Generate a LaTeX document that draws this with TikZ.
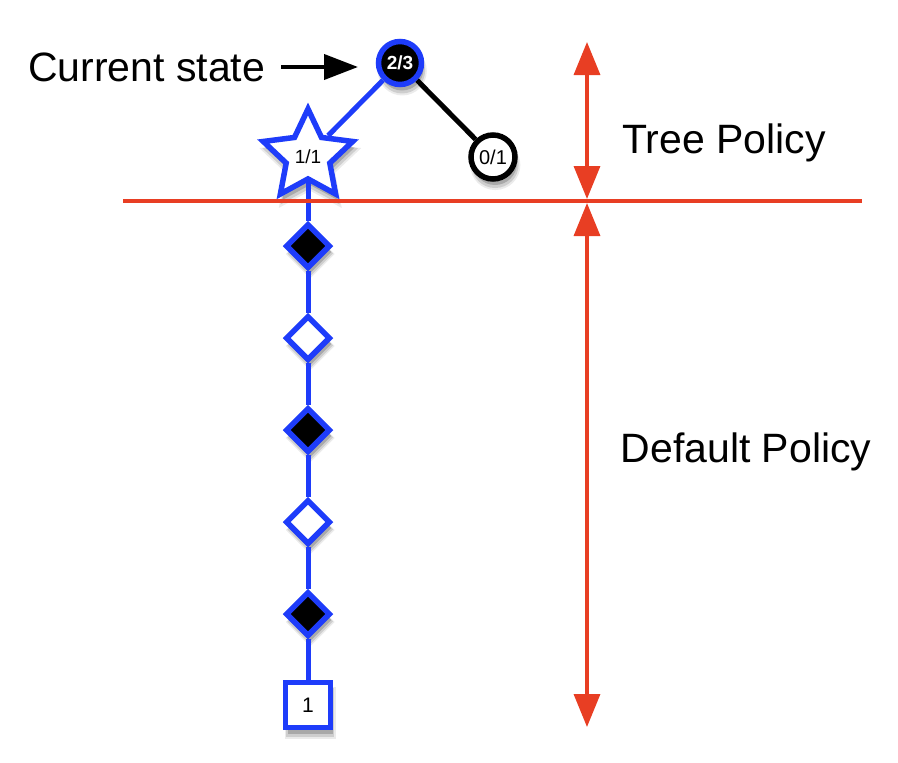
\documentclass[tikz,border=0pt]{standalone}
\usepackage{fontspec}
\setmainfont{Liberation Sans}
\usetikzlibrary{arrows.meta,shapes.geometric,shadows}
\definecolor{nodeblue}{RGB}{30,60,250}
\definecolor{polred}{RGB}{232,62,35}
\begin{document}
\begin{tikzpicture}[x=1pt,y=-1pt,
  shad/.style={
    drop shadow={shadow xshift=2pt,shadow yshift=-7pt,shadow scale=1.14,opacity=0.08,fill=black},
    drop shadow={shadow xshift=2pt,shadow yshift=-7pt,shadow scale=1.07,opacity=0.12,fill=black},
    drop shadow={shadow xshift=2pt,shadow yshift=-6pt,shadow scale=1.0,opacity=0.18,fill=black}},
  rootnode/.style={circle,draw=nodeblue,fill=black,line width=5.5pt,minimum size=43pt,inner sep=0pt,text=white,font=\fontsize{19}{19}\selectfont\bfseries,shad},
  leafnode/.style={circle,draw=black,fill=white,line width=5.5pt,minimum size=44pt,inner sep=0pt,font=\fontsize{20}{20}\selectfont,shad},
  starnode/.style={star,star points=5,star point ratio=2.05,draw=nodeblue,fill=white,line width=5.5pt,minimum size=94pt,inner sep=0pt,shad},
  dblack/.style={diamond,aspect=1,draw=nodeblue,fill=black,line width=5.5pt,minimum size=45pt,inner sep=0pt,shad},
  dwhite/.style={diamond,aspect=1,draw=nodeblue,fill=white,line width=5.5pt,minimum size=45pt,inner sep=0pt,shad},
  termnode/.style={rectangle,draw=nodeblue,fill=white,line width=5.5pt,minimum size=45pt,inner sep=0pt,font=\fontsize{21}{21}\selectfont,shad},
  blueedge/.style={draw=nodeblue,line width=5pt},
  blackedge/.style={draw=black,line width=5pt},
  redline/.style={draw=polred,line width=3.5pt},
  redarrow/.style={draw=polred,line width=3.5pt,{Triangle[length=33pt,width=26pt]}-{Triangle[length=33pt,width=26pt]}},
  lbl/.style={font=\fontsize{41}{41}\selectfont,inner sep=0pt}
]
\useasboundingbox (0,0) rectangle (898,763);

% nodes
\node[rootnode] (root) at (400,63) {2/3};
\node[leafnode] (leaf) at (493,157) {0/1};
\node[starnode] (star) at (308,156) {};
\node[font=\fontsize{19}{19}\selectfont] (startext) at (308,157) {1/1};
\node[dblack] (d1) at (308,246) {};
\node[dwhite] (d2) at (308,338) {};
\node[dblack] (d3) at (308,430) {};
\node[dwhite] (d4) at (308,522) {};
\node[dblack] (d5) at (308,614) {};
\node[termnode] (sq) at (308,705) {1};

% edges
\draw[blueedge] (root) -- (star);
\draw[blackedge] (root) -- (leaf);
\path (star.center) ++(0,21) coordinate (starbot);
\draw[blueedge] (starbot) -- (d1) -- (d2) -- (d3) -- (d4) -- (d5) -- (sq);

% current state label
\node[lbl,anchor=west] (cur) at (28,67) {Current state};
\coordinate (arrS) at (281,67);
\coordinate (arrE) at (358,67);
\draw[line width=4pt,-{Triangle[length=34pt,width=25pt]}] (arrS) -- (arrE);

% red divider and arrows
\coordinate (hl) at (123,201);
\coordinate (hr) at (862,201);
\draw[redline] (hl) -- (hr);
\coordinate (a1) at (587,42);
\coordinate (a2) at (587,199);
\coordinate (a3) at (587,203);
\coordinate (a4) at (587,727);
\draw[redarrow] (a1) -- (a2);
\draw[redarrow] (a3) -- (a4);

\node[lbl] (tp) at (724,143) {Tree Policy};
\node[lbl] (dp) at (746,452) {Default Policy};
\end{tikzpicture}
\end{document}
